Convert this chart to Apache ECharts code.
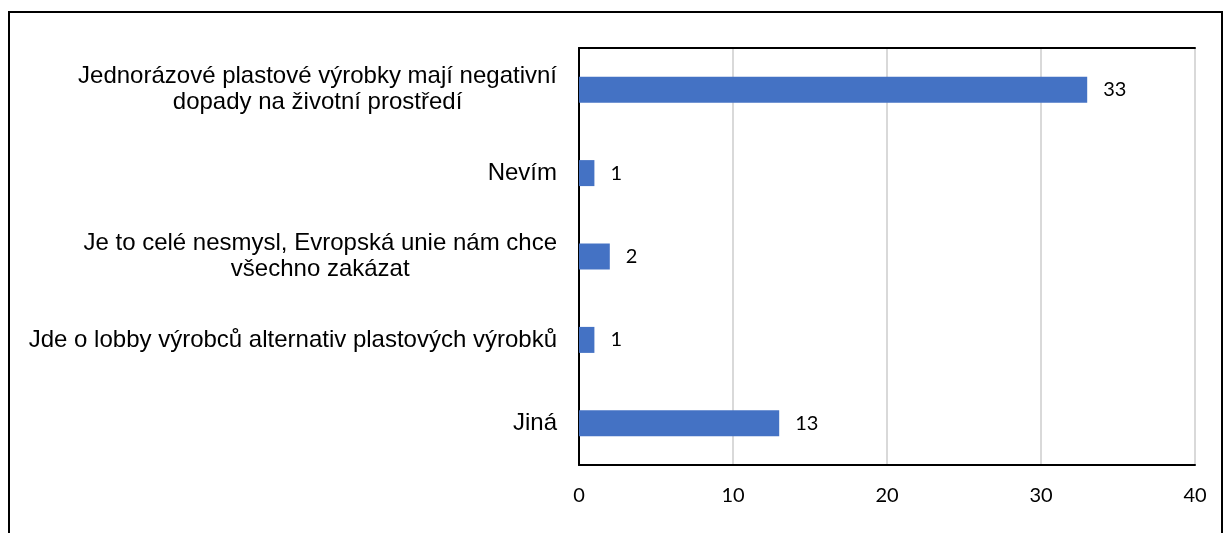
<!DOCTYPE html>
<html><head><meta charset="utf-8">
<script src="https://cdn.jsdelivr.net/npm/echarts@6/dist/echarts.min.js"></script>
<style>html,body{margin:0;padding:0;background:#fff}#c{width:1229px;height:533px}</style>
</head><body><div id="c"></div>
<script>
const categories = [
  "Jednorázové plastové výrobky mají negativní\ndopady na životní prostředí",
  "Nevím",
  "Je to celé nesmysl, Evropská unie nám chce\nvšechno zakázat",
  "Jde o lobby výrobců alternativ plastových výrobků",
  "Jiná"
];
const values = [33, 1, 2, 1, 13];
const xTicks = [0, 10, 20, 30, 40];

const chart = echarts.init(document.getElementById('c'), null, {renderer: 'canvas'});
const numFont = 'Lato, "Open Sans", sans-serif';
const catFont = '"Liberation Sans", Arial, sans-serif';
chart.setOption({
  animation: false,
  backgroundColor: '#fff',
  graphic: [{
    type: 'rect', shape: {x: 9, y: 12, width: 1213, height: 600},
    style: {fill: 'none', stroke: '#000', lineWidth: 2}, z: 100
  }],
  grid: {left: 579, top: 48, width: 616, height: 417, containLabel: false},
  xAxis: [{
    type: 'value', min: xTicks[0], max: xTicks[xTicks.length - 1], interval: 10,
    axisLine: {show: true, lineStyle: {color: '#000', width: 2}},
    axisTick: {show: false},
    splitLine: {show: true, lineStyle: {color: '#d9d9d9', width: 2}},
    axisLabel: {color: '#000', fontSize: 20, fontFamily: numFont, margin: 21}
  }, {
    type: 'value', position: 'top', min: 0, max: 40,
    axisLine: {show: true, lineStyle: {color: '#000', width: 2}},
    axisTick: {show: false}, axisLabel: {show: false}, splitLine: {show: false}
  }],
  yAxis: [{
    type: 'category', data: categories, inverse: true,
    axisLine: {show: true, lineStyle: {color: '#bfbfbf', width: 2}},
    axisTick: {show: false},
    axisLabel: {
      color: '#000', fontSize: 24, fontFamily: catFont,
      margin: 22, lineHeight: 26,
      formatter: function (v) {
        return v.split('\n').map(s => '{c|' + s + '}').join('\n');
      },
      rich: {c: {align: 'center', fontSize: 24, lineHeight: 26, color: '#000', fontFamily: catFont}}
    }
  }, {
    type: 'category', data: categories, inverse: true, position: 'right',
    axisLine: {show: true, lineStyle: {color: '#000', width: 2}},
    axisTick: {show: false}, axisLabel: {show: false}
  }],
  series: [{
    type: 'bar', data: values, barWidth: 26,
    itemStyle: {color: '#4472C4'},
    label: {show: true, position: 'right', distance: 16, color: '#000',
            fontSize: 20, fontFamily: numFont}
  }]
});
</script></body></html>
